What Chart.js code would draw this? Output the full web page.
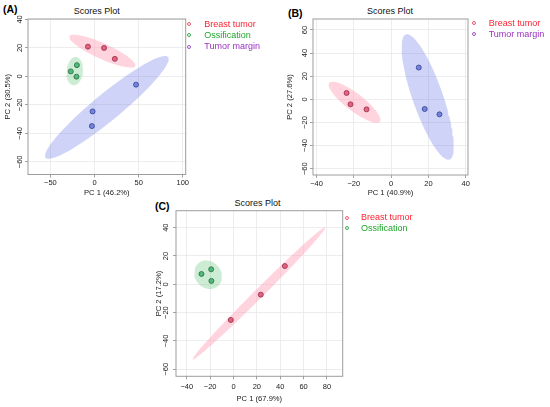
<!DOCTYPE html>
<html><head><meta charset="utf-8">
<script src="https://cdn.jsdelivr.net/npm/chart.js@4.4.1/dist/chart.umd.min.js"></script>
<style>
html,body{margin:0;padding:0;background:#fff;}
#fig{position:relative;width:550px;height:407px;overflow:hidden;background:#fff;font-family:'Liberation Sans',Arial,Helvetica,sans-serif;}
#fig canvas{position:absolute;}
.plab{position:absolute;font-weight:bold;font-size:10.5px;line-height:12px;color:#000;white-space:nowrap;}
.ttl{position:absolute;font-size:9px;line-height:11px;color:#111;white-space:nowrap;transform:translate(-50%,-50%);}
.ltxt{position:absolute;font-size:9px;line-height:11px;white-space:nowrap;}
.ldot{position:absolute;width:4.2px;height:4.2px;box-sizing:border-box;border:0.9px solid;border-radius:50%;background:#fff;}
</style>
</head><body>
<div id="fig">
  <div class="plab" style="left:3px;top:2.5px">(A)</div>
  <div class="plab" style="left:288px;top:6.5px">(B)</div>
  <div class="plab" style="left:155px;top:199.5px">(C)</div>
  <div class="ttl" style="left:96.8px;top:11.2px">Scores Plot</div>
  <div class="ttl" style="left:390px;top:10.7px">Scores Plot</div>
  <div class="ttl" style="left:257.5px;top:202.7px">Scores Plot</div>
  <canvas id="cA"></canvas>
  <canvas id="cB"></canvas>
  <canvas id="cC"></canvas>
</div>
<script>
// ---------------- data ----------------
// Panel A
const aBreastX = [-7.5, 10.8, 23.0];
const aBreastY = [20.9, 20.0, 12.3];
const aOssX = [-26.9, -20.0, -20.5];
const aOssY = [3.5, 7.9, -0.2];
const aMarginX = [-2.2, -3.0, 47.0];
const aMarginY = [-24.6, -34.9, -5.8];
const aXTicks = [-50, 0, 50, 100];
const aYTicks = [-60, -40, -20, 0, 20, 40];
// Panel B
const bBreastX = [-23.9, -21.8, -13.2];
const bBreastY = [5.5, -4.3, -8.7];
const bMarginX = [14.8, 18.0, 25.9];
const bMarginY = [27.5, -8.4, -13.0];
const bXTicks = [-40, -20, 0, 20, 40];
const bYTicks = [-60, -40, -20, 0, 20, 40, 60];
// Panel C
const cBreastX = [-2.3, 23.4, 44.0];
const cBreastY = [-25.2, -7.3, 12.9];
const cOssX = [-27.4, -19.1, -18.9];
const cOssY = [7.3, 10.6, 2.4];
const cXTicks = [-40, -20, 0, 20, 40, 60, 80];
const cYTicks = [-60, -40, -20, 0, 20, 40];

const groupNames = ['Breast tumor', 'Ossification', 'Tumor margin'];
const axisTitlesA = ['PC 1 (46.2%)', 'PC 2 (30.5%)'];
const axisTitlesB = ['PC 1 (40.9%)', 'PC 2 (27.6%)'];
const axisTitlesC = ['PC 1 (67.9%)', 'PC 2 (17.2%)'];

// ---------------- styles ----------------
const FONT = "'Liberation Sans', Arial, Helvetica, sans-serif";
const STY = {
  'Breast tumor': {fill:'#e3637f', stroke:'#962a48', ell:'rgba(255,160,182,0.45)', dot:'#f0566c', text:'#ff1f2f'},
  'Ossification': {fill:'#52b97a', stroke:'#2a6b45', ell:'rgba(100,200,120,0.33)', dot:'#3aaa4a', text:'#1ea52c'},
  'Tumor margin': {fill:'#7384dc', stroke:'#343f8f', ell:'rgba(110,120,235,0.33)', dot:'#9a55c4', text:'#9a32c0'}
};

// 95% data ellipse (as in R ellipse::ellipse on the group covariance)
function dataEllipse(xs, ys, n) {
  const k = xs.length;
  const mx = xs.reduce((s,v)=>s+v,0)/k, my = ys.reduce((s,v)=>s+v,0)/k;
  let vx=0, vy=0, cxy=0;
  for (let i=0;i<k;i++){ vx+=(xs[i]-mx)**2; vy+=(ys[i]-my)**2; cxy+=(xs[i]-mx)*(ys[i]-my); }
  vx/=(k-1); vy/=(k-1); cxy/=(k-1);
  const sx=Math.sqrt(vx), sy=Math.sqrt(vy);
  const r = Math.max(-1, Math.min(1, cxy/(sx*sy)));
  const d = Math.acos(r);
  const t = Math.sqrt(-2*Math.log(1-0.95));
  const pts=[];
  for (let i=0;i<=n;i++){
    const a = 2*Math.PI*i/n;
    pts.push({x: t*sx*Math.cos(a+d/2)+mx, y: t*sy*Math.cos(a-d/2)+my});
  }
  return pts;
}

function measure(txt, size) {
  const c = document.createElement('canvas').getContext('2d');
  c.font = size + 'px ' + FONT;
  return c.measureText(txt).width;
}
const fmt = v => String(v).replace('-', '\u2212');

const borderPlugin = {
  id: 'plotBorder',
  afterDraw(chart) {
    const a = chart.chartArea, ctx = chart.ctx;
    ctx.save();
    ctx.strokeStyle = '#9d9d9d';
    ctx.lineWidth = 1;
    ctx.strokeRect(a.left, a.top, a.right - a.left, a.bottom - a.top);
    ctx.restore();
  }
};

const TICK_FS = 7.5, TITLE_FS = 7.6, LH = 1.2;

function makePanel(id, P) {
  const cv = document.getElementById(id);
  cv.width = P.cw; cv.height = P.ch;
  cv.style.left = P.cx + 'px'; cv.style.top = P.cy + 'px';
  cv.style.width = P.cw + 'px'; cv.style.height = P.ch + 'px';

  const datasets = [];
  P.groups.forEach(g => {
    const s = STY[g.name];
    datasets.push({
      label: g.name + ' ellipse', data: dataEllipse(g.xs, g.ys, 120),
      showLine: true, fill: 'shape', backgroundColor: s.ell, borderWidth: 0,
      borderColor: 'rgba(0,0,0,0)', pointRadius: 0, tension: 0, order: 2
    });
  });
  P.groups.forEach(g => {
    const s = STY[g.name];
    datasets.push({
      label: g.name, data: g.xs.map((x,i)=>({x, y: g.ys[i]})),
      backgroundColor: s.fill, borderColor: s.stroke, borderWidth: 0.8,
      pointRadius: 2.5, order: 1
    });
  });

  const widest = measure('\u221260', TICK_FS);
  const tl = 3;
  const chartBottom = P.cy + P.ch;
  new Chart(cv, {
    type: 'scatter',
    data: { datasets },
    plugins: [borderPlugin],
    options: {
      responsive: false, animation: false,
      layout: { padding: { left: 0, top: P.area.t - P.cy, right: P.cx + P.cw - P.area.r, bottom: 0 } },
      plugins: { legend: { display: false }, tooltip: { enabled: false } },
      scales: {
        x: {
          type: 'linear', position: 'bottom', min: P.xr[0], max: P.xr[1],
          afterBuildTicks: s => { s.ticks = P.xt.map(v => ({value: v})); },
          afterFit: s => { s.height = chartBottom - P.area.b; },
          border: { display: false },
          grid: { color: '#e8e8e8', lineWidth: 0.8, tickLength: tl, tickColor: '#8a8a8a', tickWidth: 0.8 },
          ticks: { font: { family: FONT, size: TICK_FS, lineHeight: LH }, color: '#1a1a1a', autoSkip: false,
                   maxRotation: 0, padding: P.xLabD - tl - TICK_FS*LH/2, callback: fmt },
          title: { display: true, text: P.titles[0], color: '#1a1a1a',
                   font: { family: FONT, size: TITLE_FS, lineHeight: LH },
                   padding: { top: 0, bottom: chartBottom - P.xTitleY - TITLE_FS*LH/2 } }
        },
        y: {
          type: 'linear', position: 'left', min: P.yr[0], max: P.yr[1],
          afterBuildTicks: s => { s.ticks = P.yt.map(v => ({value: v})); },
          afterFit: s => { s.width = P.area.l - P.cx; },
          border: { display: false },
          grid: { color: '#e8e8e8', lineWidth: 0.8, tickLength: tl, tickColor: '#8a8a8a', tickWidth: 0.8 },
          ticks: { font: { family: FONT, size: TICK_FS, lineHeight: LH }, color: '#1a1a1a', autoSkip: false,
                   minRotation: 90, maxRotation: 90, crossAlign: 'center', callback: fmt,
                   padding: P.yLabD - tl - widest/2 },
          title: { display: true, text: P.titles[1], color: '#1a1a1a',
                   font: { family: FONT, size: TITLE_FS, lineHeight: LH },
                   padding: { top: P.yTitleX - P.cx - TITLE_FS*LH/2, bottom: 0 } }
        }
      }
    }
  });

  // legend (HTML text)
  const fig = document.getElementById('fig');
  P.groups.forEach((g, i) => {
    const s = STY[g.name];
    const cyRow = P.leg.y0 + i * P.leg.dy;
    const dot = document.createElement('div');
    dot.className = 'ldot';
    dot.style.borderColor = s.dot;
    dot.style.left = (P.leg.dotX - 2.1) + 'px';
    dot.style.top = (cyRow - 2.1) + 'px';
    fig.appendChild(dot);
    const t = document.createElement('div');
    t.className = 'ltxt';
    t.style.color = s.text;
    t.style.left = P.leg.textX + 'px';
    t.style.top = (cyRow - 5.5) + 'px';
    t.textContent = g.name;
    fig.appendChild(t);
  });
}

makePanel('cA', {
  cx: 0, cy: 12, cw: 196, ch: 190,
  area: { l: 28, t: 19, r: 185.7, b: 174.5 },
  xr: [-75.4, 103.3], yr: [-68.9, 40.3], xt: aXTicks, yt: aYTicks,
  titles: axisTitlesA, xTitleY: 193, yTitleX: 8, xLabD: 8.8, yLabD: 8,
  leg: { dotX: 189.3, textX: 204.3, y0: 24, dy: 11.3 },
  groups: [
    { name: groupNames[0], xs: aBreastX, ys: aBreastY },
    { name: groupNames[1], xs: aOssX, ys: aOssY },
    { name: groupNames[2], xs: aMarginX, ys: aMarginY }
  ]
});

makePanel('cB', {
  cx: 280, cy: 12, cw: 198, ch: 190,
  area: { l: 313, t: 19, r: 468, b: 175 },
  xr: [-41.9, 41.2], yr: [-65.5, 69.5], xt: bXTicks, yt: bYTicks,
  titles: axisTitlesB, xTitleY: 192.7, yTitleX: 290, xLabD: 9, yLabD: 8,
  leg: { dotX: 474, textX: 488.7, y0: 23.3, dy: 10.9 },
  groups: [
    { name: groupNames[0], xs: bBreastX, ys: bBreastY },
    { name: groupNames[2], xs: bMarginX, ys: bMarginY }
  ]
});

makePanel('cC', {
  cx: 140, cy: 200, cw: 212, ch: 207,
  area: { l: 176, t: 210.7, r: 342.7, b: 376.3 },
  xr: [-49.2, 93.5], yr: [-65, 52], xt: cXTicks, yt: cYTicks,
  titles: axisTitlesC, xTitleY: 399.3, yTitleX: 159.3, xLabD: 11, yLabD: 10,
  leg: { dotX: 346.7, textX: 361, y0: 217.7, dy: 10.7 },
  groups: [
    { name: groupNames[0], xs: cBreastX, ys: cBreastY },
    { name: groupNames[1], xs: cOssX, ys: cOssY }
  ]
});
</script>
</body></html>
